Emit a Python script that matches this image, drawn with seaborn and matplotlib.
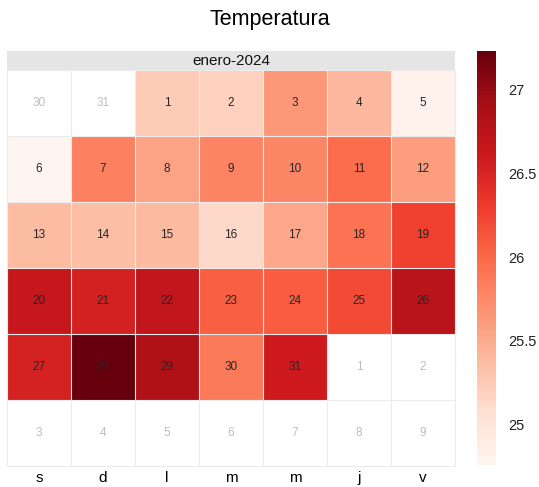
import numpy as np
import pandas as pd
import matplotlib
matplotlib.use("Agg")
import matplotlib.pyplot as plt
from matplotlib.colors import ListedColormap
import seaborn as sns

# ---- data ----
title = "Temperatura"
month_label = "enero-2024"
weekdays = ["s", "d", "l", "m", "m", "j", "v"]
days = list(range(1, 32))
temps = [25.25, 25.20, 25.65, 25.40, 24.80, 24.76, 25.82, 25.57, 25.80, 25.77,
         25.97, 25.60, 25.37, 25.35, 25.38, 25.13, 25.53, 25.92, 26.27, 26.66,
         26.54, 26.69, 26.07, 26.08, 26.20, 26.76, 26.53, 27.23, 26.84, 25.87,
         26.59]
prev_days = [30, 31]
next_days = [1, 2, 3, 4, 5, 6, 7, 8, 9]
first_col = 2  # 1 Jan 2024 falls on lunes

sns.set_theme(style="white")
plt.rcParams['font.family'] = ['Liberation Sans', 'DejaVu Sans']

n_rows, n_cols = 6, 7
vals = np.full((n_rows, n_cols), np.nan)
labels = np.full((n_rows, n_cols), "", dtype=object)
out_vals = np.full((n_rows, n_cols), np.nan)
out_labels = np.full((n_rows, n_cols), "", dtype=object)

for k, d in enumerate(prev_days):
    idx = first_col - len(prev_days) + k
    out_vals[idx // 7, idx % 7] = 0
    out_labels[idx // 7, idx % 7] = str(d)
for d, t in zip(days, temps):
    idx = first_col + d - 1
    vals[idx // 7, idx % 7] = t
    labels[idx // 7, idx % 7] = str(d)
for k, d in enumerate(next_days):
    idx = first_col + len(days) + k
    out_vals[idx // 7, idx % 7] = 0
    out_labels[idx // 7, idx % 7] = str(d)

df = pd.DataFrame(vals, columns=range(n_cols))
df_out = pd.DataFrame(out_vals, columns=range(n_cols))

W, H = 539, 487
fig = plt.figure(figsize=(W / 100, H / 100), dpi=100)
ax = fig.add_axes([7 / W, 1 - 466 / H, 448 / W, 396 / H])
cax = fig.add_axes([477 / W, 1 - 465 / H, 19 / W, 414 / H])
hax = fig.add_axes([7 / W, 1 - 70 / H, 448 / W, 19 / H])

sns.heatmap(df_out, ax=ax, cmap=ListedColormap(["white"]), cbar=False,
            linewidths=0, annot=out_labels, fmt="",
            annot_kws={"color": "#bdbdbd", "fontsize": 8.5})
sns.heatmap(df, ax=ax, cmap="Reds", cbar=True, cbar_ax=cax,
            linewidths=0, annot=labels, fmt="",
            annot_kws={"color": "#262626", "fontsize": 8.5})

# cell borders
grid_c = "#ebebeb"
ax.hlines(np.arange(n_rows + 1), 0, n_cols, colors=grid_c, linewidth=0.8,
          clip_on=False, zorder=3)
ax.vlines(np.arange(n_cols + 1), 0, n_rows, colors=grid_c, linewidth=0.8,
          clip_on=False, zorder=3)

ax.set_xticks(np.arange(n_cols) + 0.5)
ax.set_xticklabels(weekdays, fontsize=11, color="black")
ax.set_yticks([])
ax.set_xlabel("")
ax.set_ylabel("")
ax.tick_params(axis="x", length=0, pad=3.5)
for s in ax.spines.values():
    s.set_visible(False)

# colorbar
cb = ax.collections[1].colorbar
cb.set_ticks([25, 25.5, 26, 26.5, 27])
cb.set_ticklabels(["25", "25.5", "26", "26.5", "27"])
cb.outline.set_visible(False)
cax.tick_params(length=0, labelsize=10.5, pad=9, colors="#222222")

# header strip
hax.set_facecolor("#e5e5e5")
hax.set_xticks([])
hax.set_yticks([])
for s in hax.spines.values():
    s.set_visible(False)
hax.text(0.5, 0.45, month_label, ha="center", va="center", fontsize=11,
         color="#111111", transform=hax.transAxes)

fig.text(0.5, 1 - 20 / H, title, ha="center", va="center", fontsize=15.5, color="black")

fig.savefig("out.png", dpi=100)
